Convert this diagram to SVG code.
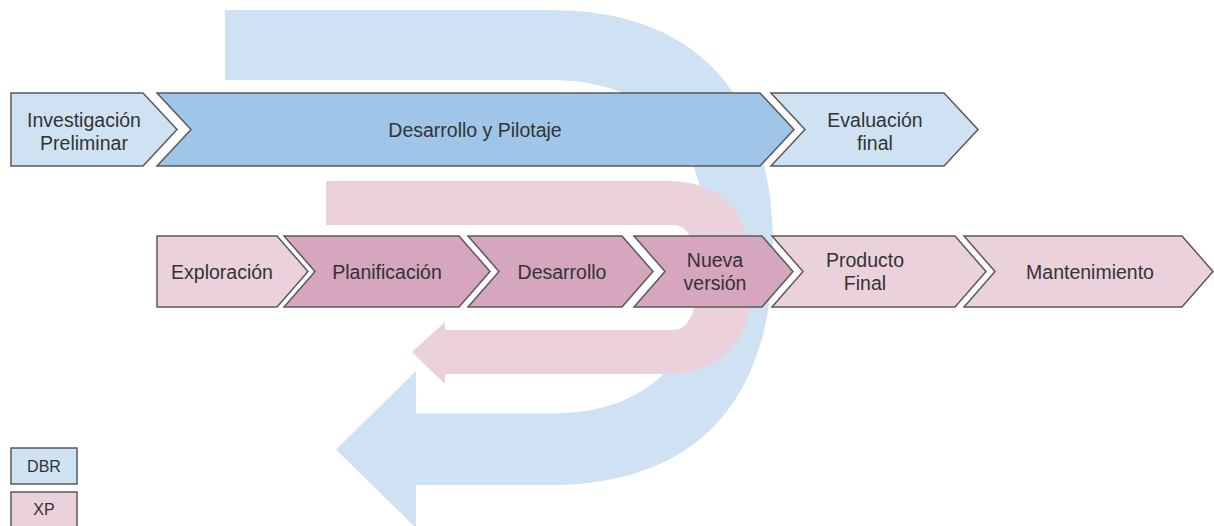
<svg xmlns="http://www.w3.org/2000/svg" width="1214" height="526" viewBox="0 0 1214 526">
<style>
.node{stroke:#595959;stroke-width:1.5;stroke-linejoin:miter}
.b1{fill:#cfe2f3}.b2{fill:#9fc5e8}.p1{fill:#ead1dc}.p2{fill:#d5a6bd}
text{font-family:"Liberation Sans",Arial,sans-serif;font-size:19.5px;fill:#333;text-anchor:middle}
.leg{font-size:16px}
</style>
<rect width="1214" height="526" fill="#fff"/>
<g id="connectors">
<path id="dbr-cycle" fill="#cfe2f3" d="M225,10 H550 C695,10 773,93 773,247.5 C773,402 695,485 550,485 H416 V528 L336,449.5 L416,371 V413.5 H550 C652,413.5 707,355 707,247 C707,139 652,80 550,80 H225 Z"/>
<path id="xp-cycle" fill="#ead1dc" d="M326,181 H667 C723,181 753,214 753,277.5 C753,341 723,374 667,374 H445 V384 L412,352 L445,322 V330 H673 C689,330 697,311.5 697,277.5 C697,243.5 689,225 673,225 H326 Z"/>
</g>
<g id="investigacion">
<path class="node b1" d="M11,93 H143 L177,129.5 L143,166 H11 Z"/>
<text x="84" y="127">Investigación</text><text x="84" y="150">Preliminar</text>
</g>
<g id="desarrollo-pilotaje">
<path class="node b2" d="M157,93 H760 L794,129.5 L760,166 H157 L191,129.5 Z"/>
<text x="475" y="137">Desarrollo y Pilotaje</text>
</g>
<g id="evaluacion">
<path class="node b1" d="M771,93 H944 L978,129.5 L944,166 H771 L805,129.5 Z"/>
<text x="875" y="127">Evaluación</text><text x="875" y="150">final</text>
</g>
<g id="exploracion">
<path class="node p1" d="M157,236 H277 L308,271.5 L277,307 H157 Z"/>
<text x="222" y="279">Exploración</text>
</g>
<g id="planificacion">
<path class="node p2" d="M284,236 H459 L490,271.5 L459,307 H284 L315,271.5 Z"/>
<text x="387" y="279">Planificación</text>
</g>
<g id="desarrollo">
<path class="node p2" d="M468,236 H622 L653,271.5 L622,307 H468 L499,271.5 Z"/>
<text x="562" y="279">Desarrollo</text>
</g>
<g id="nueva-version">
<path class="node p2" d="M634,236 H762 L793,271.5 L762,307 H634 L665,271.5 Z"/>
<text x="715" y="267">Nueva</text><text x="715" y="290">versión</text>
</g>
<g id="producto-final">
<path class="node p1" d="M772,236 H955 L986,271.5 L955,307 H772 L803,271.5 Z"/>
<text x="865" y="267">Producto</text><text x="865" y="290">Final</text>
</g>
<g id="mantenimiento">
<path class="node p1" d="M964,236 H1182 L1213,271.5 L1182,307 H964 L995,271.5 Z"/>
<text x="1090" y="279">Mantenimiento</text>
</g>
<g id="legend-dbr">
<rect class="node b1" x="11" y="448" width="66" height="36"/>
<text class="leg" x="44" y="472">DBR</text>
</g>
<g id="legend-xp">
<rect class="node p1" x="11" y="492" width="66" height="36"/>
<text class="leg" x="44" y="515">XP</text>
</g>
</svg>
